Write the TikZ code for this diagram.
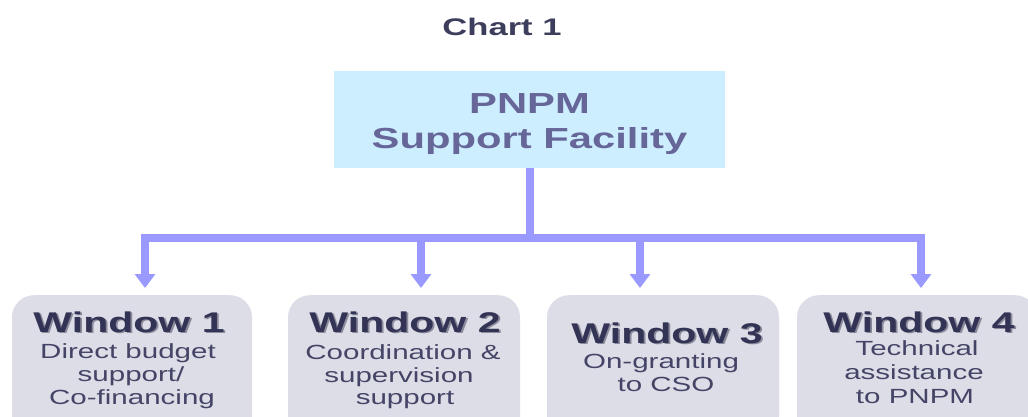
\documentclass[tikz,border=0pt]{standalone}
\usepackage{fontspec}
\setmainfont{Liberation Sans}
\newfontfamily\widefont[FakeStretch=1.44]{Liberation Sans}
\usetikzlibrary{arrows.meta}
\definecolor{conncol}{HTML}{9999FF}
\definecolor{topfill}{HTML}{CCEEFF}
\definecolor{toptext}{HTML}{666699}
\definecolor{winfill}{HTML}{DDDDE8}
\definecolor{wintext}{HTML}{333355}
\definecolor{bodytext}{HTML}{444466}
\definecolor{shadowcol}{HTML}{8A8A9A}
\definecolor{titlecol}{HTML}{3D3D5C}
\tikzset{
  charttitle/.style={font=\widefont\bfseries\fontsize{24}{28}\selectfont, text=titlecol, inner sep=0pt},
  topbox/.style={fill=topfill, minimum width=391pt, minimum height=97pt, inner sep=0pt},
  toplabel/.style={align=center, inner sep=0pt, text=toptext, font=\widefont\bfseries\fontsize{29}{35}\selectfont},
  winbox/.style={fill=winfill, rounded corners=22pt, minimum height=170pt, anchor=north, inner sep=0pt},
  wintitle/.style={font=\widefont\bfseries\fontsize{28.5}{32}\selectfont, text=wintext, anchor=base, inner sep=0pt},
  winshadow/.style={wintitle, text=shadowcol, xshift=1.8pt, yshift=-1.8pt},
  bodyline/.style={font=\widefont\fontsize{20.5}{24}\selectfont, text=bodytext, anchor=base, inner sep=0pt},
  conn/.style={draw=conncol, line width=8pt},
  connarrow/.style={conn, -{Triangle[width=20pt,length=14pt]}, shorten >=7pt},
}
\begin{document}
\begin{tikzpicture}[x=1pt,y=-1pt]
\clip (0,0) rectangle (1028,416);
\fill[white] (0,0) rectangle (1028,416);

\node[charttitle] (title) at (502,27) {Chart 1};
\node[topbox] (top) at (529.5,119.5) {};
\node[toplabel] (toptxt) at (529.5,124) {PNPM\\Support Facility};

\node[winbox, minimum width=240pt] (w1) at (132,295) {};
\node[winbox, minimum width=232pt] (w2) at (404,295) {};
\node[winbox, minimum width=232pt] (w3) at (663,295) {};
\node[winbox, minimum width=240pt] (w4) at (917,295) {};

\coordinate (b1) at (145,238);
\coordinate (b2) at (421,238);
\coordinate (b3) at (640,238);
\coordinate (b4) at (921,238);

\draw[conn] (top.south) -- (top.south |- b1);
\draw[conn, line cap=rect] (b1) -- (b4);
\draw[connarrow] (b1) -- (b1 |- w1.north);
\draw[connarrow] (b2) -- (b2 |- w2.north);
\draw[connarrow] (b3) -- (b3 |- w3.north);
\draw[connarrow] (b4) -- (b4 |- w4.north);

% Window 1
\node[winshadow] (s1) at (129,332) {Window 1};
\node[wintitle] (t1) at (129,332) {Window 1};
\node[bodyline] (w1a) at (128,358) {Direct budget};
\node[bodyline] (w1b) at (131,381) {support/};
\node[bodyline] (w1c) at (132,404) {Co-financing};

% Window 2
\node[winshadow] (s2) at (405,332) {Window 2};
\node[wintitle] (t2) at (405,332) {Window 2};
\node[bodyline] (w2a) at (403,359) {Coordination \&};
\node[bodyline] (w2b) at (399,382) {supervision};
\node[bodyline] (w2c) at (405,404) {support};

% Window 3
\node[winshadow] (s3) at (667,343) {Window 3};
\node[wintitle] (t3) at (667,343) {Window 3};
\node[bodyline] (w3a) at (661,368) {On-granting};
\node[bodyline] (w3b) at (666,391) {to CSO};

% Window 4
\node[winshadow] (s4) at (919,332) {Window 4};
\node[wintitle] (t4) at (919,332) {Window 4};
\node[bodyline] (w4a) at (917,355) {Technical};
\node[bodyline] (w4b) at (914,379) {assistance};
\node[bodyline] (w4c) at (915,403) {to PNPM};
\end{tikzpicture}
\end{document}
